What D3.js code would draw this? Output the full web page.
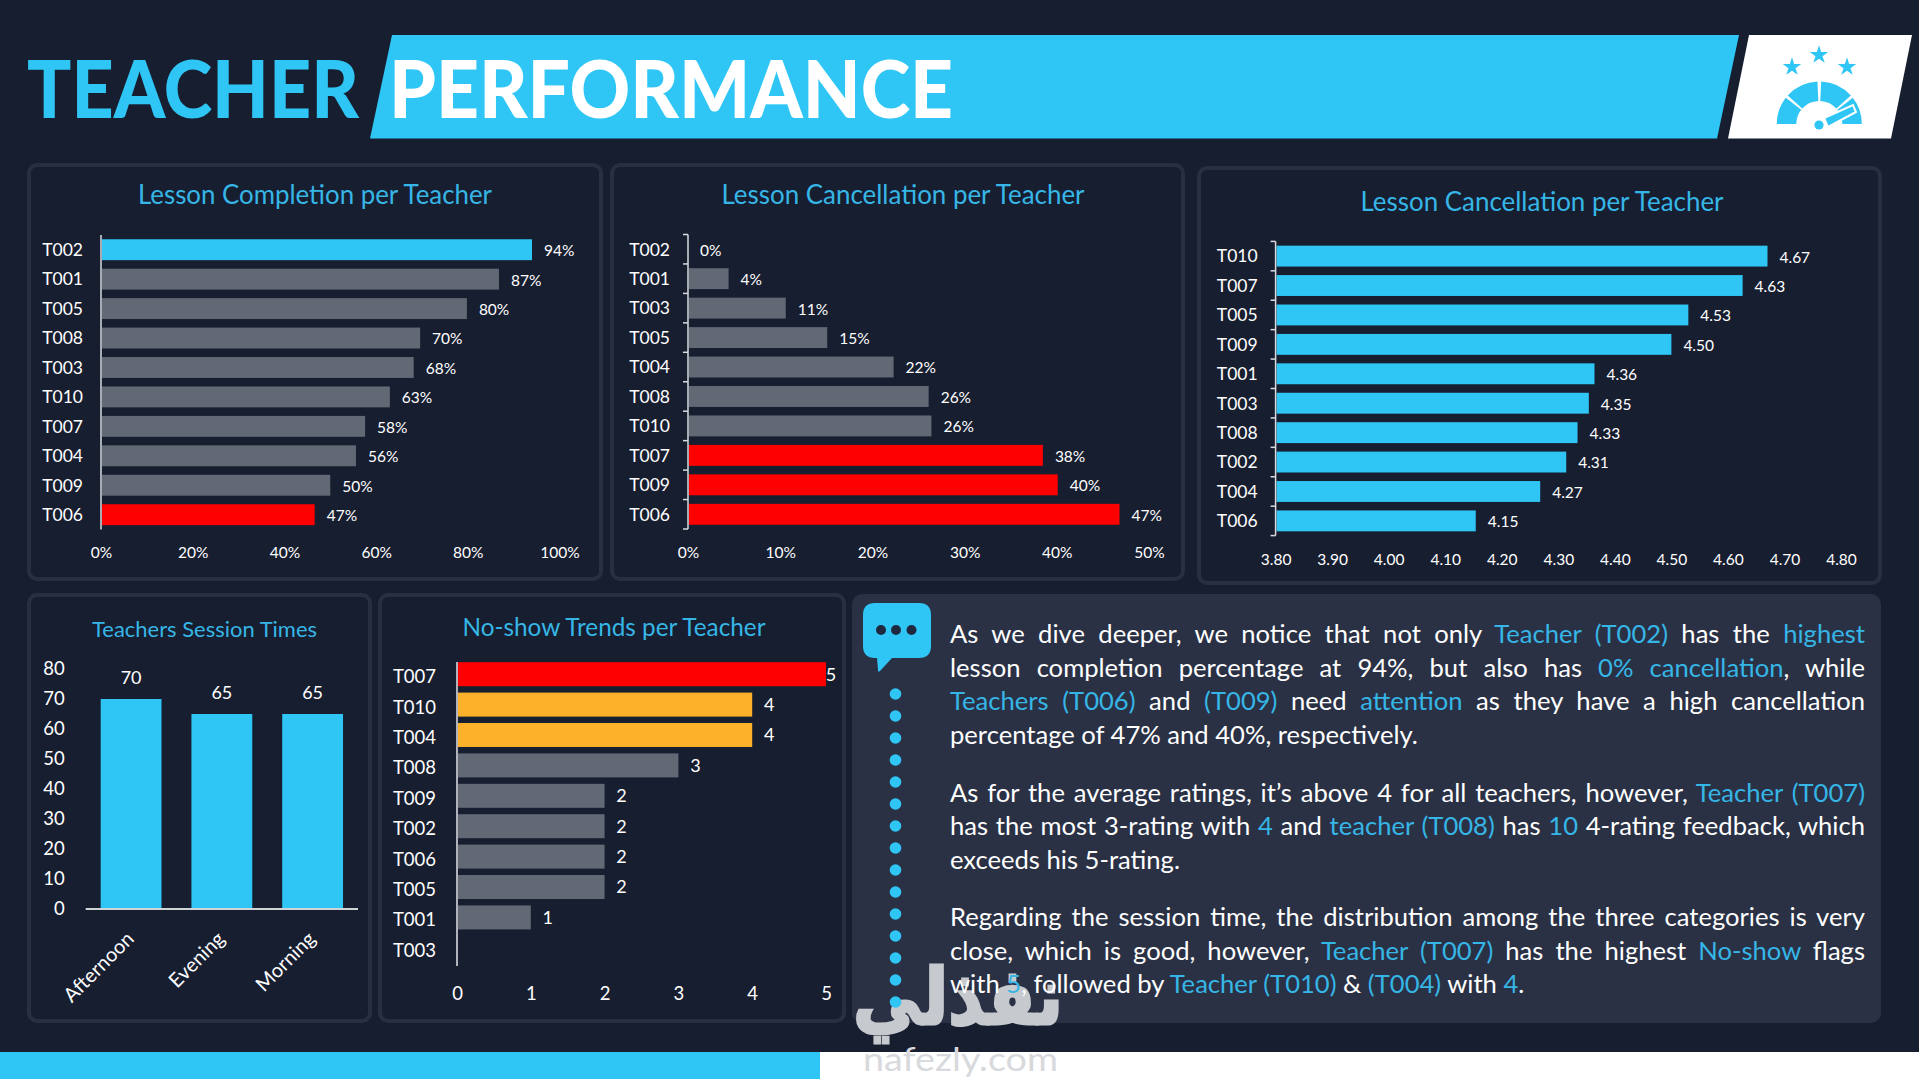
<!DOCTYPE html>
<html>
<head>
<meta charset="utf-8">
<title>Teacher Performance</title>
<script src="https://cdn.jsdelivr.net/npm/d3@7"></script>
<style>
    html, body { margin: 0; padding: 0; background: #171e30; overflow: hidden; }
    svg { display: block; }
    text { font-family: Lato, "Open Sans", sans-serif; fill: #fff; }
    .axis text { fill: #fff; }
    .chartTitle { fill: #36b6e6; }
    .hi { fill: #36b6e6; }
</style>
</head>
<body>
<script>
// Chart values
var completionTeachers = ["T002","T001","T005","T008","T003","T010","T007","T004","T009","T006"];
var completionValues = [94, 86.8, 79.8, 69.6, 68.2, 63, 57.6, 55.6, 50, 46.6];
var completionTicks = [0, 20, 40, 60, 80, 100];

var cancelTeachers = ["T002","T001","T003","T005","T004","T008","T010","T007","T009","T006"];
var cancelValues = [0, 4.4, 10.6, 15.1, 22.3, 26.1, 26.4, 38.49, 40.1, 46.8];
var cancelTicks = [0, 10, 20, 30, 40, 50];

var ratingTeachers = ["T010","T007","T005","T009","T001","T003","T008","T002","T004","T006"];
var ratingValues = [4.67, 4.626, 4.53, 4.50, 4.364, 4.354, 4.334, 4.314, 4.268, 4.154];
var ratingTicks = [3.8, 3.9, 4.0, 4.1, 4.2, 4.3, 4.4, 4.5, 4.6, 4.7, 4.8];

var sessionNames = ["Afternoon","Evening","Morning"];
var sessionValues = [70, 65, 65];
var sessionTicks = [0, 10, 20, 30, 40, 50, 60, 70, 80];

var noShowTeachers = ["T007","T010","T004","T008","T009","T002","T006","T005","T001","T003"];
var noShowValues = [5, 4, 4, 3, 2, 2, 2, 2, 1, null];
var noShowTicks = [0, 1, 2, 3, 4, 5];

// Commentary, one entry per line. Text between * is highlighted.
var notesLines = [
    "As we dive deeper, we notice that not only *Teacher (T002)* has the *highest*",
    "lesson completion percentage at 94%, but also has *0% cancellation*, while",
    "*Teachers (T006)* and *(T009)* need *attention* as they have a high cancellation",
    "percentage of 47% and 40%, respectively.",
    "As for the average ratings, it\u2019s above 4 for all teachers, however, *Teacher (T007)*",
    "has the most 3-rating with *4* and *teacher (T008)* has *10* 4-rating feedback, which",
    "exceeds his 5-rating.",
    "Regarding the session time, the distribution among the three categories is very",
    "close, which is good, however, *Teacher (T007)* has the highest *No-show* flags",
    "with *5*, followed by *Teacher (T010)* & *(T004)* with *4*."
];
var notesBaselines = [643, 677, 710, 744, 802, 835, 869, 926, 960, 993];
var notesJustified = [true, true, true, false, true, true, false, true, true, false];

var cyan = "#2fc6f6", grey = "#636875", red = "#ff0000", orange = "#fdb12b";

var width = 1919, height = 1079;
var svg = d3.select("body").append("svg")
    .attr("width", width)
    .attr("height", height);

svg.append("rect").attr("width", width).attr("height", height).attr("fill", "#171e30");

// Banner
svg.append("polygon").attr("points", "392,35 1739,35 1717,138.5 370,138.5").attr("fill", cyan);
svg.append("polygon").attr("points", "1749,35 1912,35 1891,138.5 1728,138.5").attr("fill", "#fff");
fitText(svg, "TEACHER", 27, 118, 332, 80, cyan, 900);
fitText(svg, "PERFORMANCE", 389, 118, 564, 80, "#fff", 900);
drawGauge();

// Bottom strip
svg.append("rect").attr("x", 0).attr("y", 1052).attr("width", 820).attr("height", 27).attr("fill", cyan);
svg.append("rect").attr("x", 820).attr("y", 1052).attr("width", 1099).attr("height", 27).attr("fill", "#fff");

// Panels
panel(29, 165, 572, 414);
panel(612, 165, 571, 414);
panel(1199, 168, 681, 415);
panel(29, 595, 341, 426);
panel(380, 595, 464, 426);
svg.append("rect").attr("x", 852).attr("y", 594).attr("width", 1029).attr("height", 429)
    .attr("rx", 10).attr("fill", "#2a3145");

// Lesson completion
hBars({
    names: completionTeachers, values: completionValues, ticks: completionTicks,
    x0: 101, x1: 559.5, domain: [0, 100], y0: 235, y1: 529.4, axisY: 552.5,
    tickFormat: function(d){ return d + "%"; },
    label: function(d){ return Math.round(d) + "%"; },
    color: function(d, i){ return i == 0 ? cyan : (i == 9 ? red : grey); },
    brackets: false
});
title("Lesson Completion per Teacher", 315, 204, 354, 26);

// Lesson cancellation
hBars({
    names: cancelTeachers, values: cancelValues, ticks: cancelTicks,
    x0: 688, x1: 1149, domain: [0, 50], y0: 234.5, y1: 529, axisY: 552.5,
    tickFormat: function(d){ return d + "%"; },
    label: function(d){ return Math.round(d) + "%"; },
    color: function(d, i){ return i >= 7 ? red : grey; },
    brackets: true
});
title("Lesson Cancellation per Teacher", 903, 204, 363, 26);

// Average rating (the original slide titles this one cancellation as well)
hBars({
    names: ratingTeachers, values: ratingValues, ticks: ratingTicks,
    x0: 1275.6, x1: 1841, domain: [3.8, 4.8], y0: 241.4, y1: 535.6, axisY: 559.5,
    tickFormat: d3.format(".2f"),
    label: d3.format(".2f"),
    color: function(){ return cyan; },
    brackets: true
});
title("Lesson Cancellation per Teacher", 1542, 211, 363, 26);

sessionChart();
noShowChart();
watermark();
notes();

function panel(x, y, w, h){
    svg.append("rect")
        .attr("x", x).attr("y", y).attr("width", w).attr("height", h)
        .attr("rx", 8)
        .attr("fill", "#171e30")
        .attr("stroke", "#272f42")
        .attr("stroke-width", 4);
}

function title(txt, cx, base, w, size){
    svg.append("text")
        .attr("class", "chartTitle")
        .attr("x", cx).attr("y", base)
        .attr("text-anchor", "middle")
        .attr("font-size", size)
        .attr("textLength", w)
        .attr("lengthAdjust", "spacingAndGlyphs")
        .text(txt);
}

function fitText(g, txt, x, base, w, size, fill, weight){
    g.append("text")
        .attr("x", x).attr("y", base)
        .attr("font-size", size)
        .attr("font-weight", weight)
        .attr("textLength", w)
        .attr("lengthAdjust", "spacingAndGlyphs")
        .style("fill", fill)
        .text(txt);
}

// Horizontal bar chart shared by the three top panels
function hBars(o){
    var x = d3.scaleLinear().domain(o.domain).range([o.x0, o.x1]);
    var y = d3.scaleBand().domain(o.names).range([o.y0, o.y1]).paddingInner(0.29).paddingOuter(0.145);

    var xAxis = d3.axisBottom(x).tickValues(o.ticks).tickSize(0).tickFormat(o.tickFormat);
    var xg = svg.append("g").attr("class", "axis")
        .attr("transform", "translate(0," + (o.axisY - 6) + ")")
        .call(xAxis);
    xg.select(".domain").remove();
    xg.selectAll("text").attr("font-size", 15.5).attr("dy", "0.71em").attr("y", 0);

    svg.append("g").selectAll("rect")
        .data(o.values)
        .enter().append("rect")
        .attr("x", x(o.domain[0]) + 1)
        .attr("y", function(d, i){ return y(o.names[i]); })
        .attr("width", function(d){ return Math.max(0, x(d) - x(o.domain[0]) - 1); })
        .attr("height", y.bandwidth())
        .attr("fill", o.color);

    var yAxis = d3.axisLeft(y).tickSize(0).tickPadding(18);
    var yg = svg.append("g").attr("class", "axis")
        .attr("transform", "translate(" + o.x0 + ",0.7)")
        .call(yAxis);
    yg.select(".domain").remove();
    yg.selectAll("text").attr("font-size", 17.5).attr("font-family", "Lato");

    // Axis line, with bracket ticks on the band edges where the chart has them
    svg.append("line")
        .attr("x1", o.x0).attr("x2", o.x0).attr("y1", o.y0).attr("y2", o.y1)
        .attr("stroke", "#d9dbe0").attr("stroke-width", 1.5);
    if(o.brackets){
        svg.append("g").selectAll("line")
            .data(d3.range(o.names.length + 1))
            .enter().append("line")
            .attr("x1", o.x0 - 5).attr("x2", o.x0)
            .attr("y1", function(i){ return o.y0 + i * y.step(); })
            .attr("y2", function(i){ return o.y0 + i * y.step(); })
            .attr("stroke", "#d9dbe0").attr("stroke-width", 1.5);
    }

    svg.append("g").selectAll("text")
        .data(o.values)
        .enter().append("text")
        .attr("x", function(d){ return x(d) + 12; })
        .attr("y", function(d, i){ return y(o.names[i]) + y.bandwidth() / 2 + 1; })
        .attr("dy", "0.35em")
        .attr("font-size", 15.5)
        .text(o.label);
}

function sessionChart(){
    title("Teachers Session Times", 204.5, 637, 225, 22);

    var x = d3.scaleBand().domain(sessionNames).range([85.7, 358]).paddingInner(0.33).paddingOuter(0.165);
    var y = d3.scaleLinear().domain([0, 80]).range([909, 669]);

    svg.append("g").selectAll("rect")
        .data(sessionValues)
        .enter().append("rect")
        .attr("x", function(d, i){ return x(sessionNames[i]); })
        .attr("y", function(d){ return y(d); })
        .attr("width", x.bandwidth())
        .attr("height", function(d){ return y(0) - y(d); })
        .attr("fill", cyan);

    svg.append("g").selectAll("text")
        .data(sessionValues)
        .enter().append("text")
        .attr("x", function(d, i){ return x(sessionNames[i]) + x.bandwidth() / 2; })
        .attr("y", function(d){ return y(d) - 21; })
        .attr("dy", "0.35em")
        .attr("text-anchor", "middle")
        .attr("font-size", 18)
        .text(function(d){ return d; });

    var yg = svg.append("g").attr("class", "axis")
        .attr("transform", "translate(85.7,0)")
        .call(d3.axisLeft(y).tickValues(sessionTicks).tickSize(0).tickPadding(21));
    yg.select(".domain").remove();
    yg.selectAll("text").attr("font-size", 18.5);

    svg.append("line")
        .attr("x1", 85.7).attr("x2", 358).attr("y1", y(0)).attr("y2", y(0))
        .attr("stroke", "#d0d3d6").attr("stroke-width", 2);

    svg.append("g").selectAll("text")
        .data(sessionNames)
        .enter().append("text")
        .attr("transform", function(d){
            return "translate(" + (x(d) + x.bandwidth() / 2 - 3) + ",933) rotate(-45)";
        })
        .attr("text-anchor", "end")
        .attr("font-size", 20)
        .attr("dy", "0.5em")
        .text(function(d){ return d; });
}

function noShowChart(){
    title("No-show Trends per Teacher", 614, 636, 303, 24.5);

    var x = d3.scaleLinear().domain([0, 5]).range([457, 826]);
    var y = d3.scaleBand().domain(noShowTeachers).range([659, 963]).paddingInner(0.21).paddingOuter(0.105);

    var colour = function(d){ return d == 5 ? red : (d == 4 ? orange : grey); };

    svg.append("g").selectAll("rect")
        .data(noShowValues)
        .enter().append("rect")
        .attr("x", x(0) + 1)
        .attr("y", function(d, i){ return y(noShowTeachers[i]); })
        .attr("width", function(d){ return d ? x(d) - x(0) - 1 : 0; })
        .attr("height", y.bandwidth())
        .attr("fill", colour);

    var yg = svg.append("g").attr("class", "axis")
        .attr("transform", "translate(457,3)")
        .call(d3.axisLeft(y).tickSize(0).tickPadding(21));
    yg.select(".domain").remove();
    yg.selectAll("text").attr("font-size", 18.5);

    svg.append("line")
        .attr("x1", 457).attr("x2", 457).attr("y1", 662).attr("y2", 966)
        .attr("stroke", "#e4e6ea").attr("stroke-width", 1.5);

    var xg = svg.append("g").attr("class", "axis")
        .attr("transform", "translate(0,987)")
        .call(d3.axisBottom(x).tickValues(noShowTicks).tickSize(0).tickFormat(d3.format("d")));
    xg.select(".domain").remove();
    xg.selectAll("text").attr("font-size", 18.5).attr("y", 0).attr("dy", "0.71em");

    svg.append("g").selectAll("text")
        .data(noShowValues.filter(function(d){ return d != null; }))
        .enter().append("text")
        .attr("x", function(d){ return x(d) + (d == 5 ? 5 : 17); })
        .attr("y", function(d, i){ return y(noShowTeachers[i]) + y.bandwidth() / 2; })
        .attr("dy", "0.35em")
        .attr("text-anchor", "middle")
        .attr("font-size", 18)
        .text(function(d){ return d; });
}

function notes(){
    var left = 950, right = 1865;

    // Speech bubble
    svg.append("path")
        .attr("d", "M875,603 H919 Q931,603 931,615 V646 Q931,658 919,658 H892 L880,671 Q878,673 878,670 L877,658 H875 Q863,658 863,646 V615 Q863,603 875,603 Z")
        .attr("fill", cyan);
    svg.append("g").selectAll("circle")
        .data([881, 896, 911.5])
        .enter().append("circle")
        .attr("cx", function(d){ return d; })
        .attr("cy", 630)
        .attr("r", 5)
        .attr("fill", "#1e2940");

    // Dotted connector
    svg.append("g").selectAll("circle")
        .data(d3.range(15))
        .enter().append("circle")
        .attr("cx", 895.5)
        .attr("cy", function(i){ return 694 + i * 22; })
        .attr("r", 5.8)
        .attr("fill", cyan);

    notesLines.forEach(function(line, i){
        var t = svg.append("text")
            .attr("x", left)
            .attr("y", notesBaselines[i])
            .attr("font-size", 25.6)
            .attr("xml:space", "preserve");
        line.split("*").forEach(function(part, k){
            if(part.length) t.append("tspan").attr("class", k % 2 ? "hi" : null).text(part);
        });
        var len = t.node().getComputedTextLength();
        var gaps = line.split(" ").length - 1;
        if(notesJustified[i]){
            t.attr("word-spacing", (right - left - len) / gaps);
        }
    });
}

function drawGauge(){
    var g = svg.append("g");
    var star = d3.symbol().type(d3.symbolStar).size(105);
    g.selectAll("path.star")
        .data([[1792, 67], [1819, 55], [1847, 67]])
        .enter().append("path")
        .attr("class", "star")
        .attr("transform", function(d){ return "translate(" + d[0] + "," + d[1] + ")"; })
        .attr("d", star())
        .attr("fill", cyan);

    var arc = d3.arc().innerRadius(23).outerRadius(42.5);
    var cx = 1819.3, cy = 124;
    [[-90, -52], [-48, -2.5], [2.5, 48], [52, 90]].forEach(function(a){
        g.append("path")
            .attr("transform", "translate(" + cx + "," + cy + ")")
            .attr("d", arc.startAngle(a[0] * Math.PI / 180).endAngle(a[1] * Math.PI / 180)())
            .attr("fill", cyan);
    });
    // Needle, with a white edge where it crosses the arc
    g.append("polygon").attr("points", "1824,118 1828,127 1856,112 1853,105")
        .attr("fill", cyan).attr("stroke", "#fff").attr("stroke-width", 2);
    g.append("circle").attr("cx", 1819).attr("cy", 125).attr("r", 4.6).attr("fill", cyan);
}

function watermark(){
    svg.append("text")
        .attr("x", 853).attr("y", 1024)
        .attr("font-size", 78)
        .attr("font-weight", 700)
        .attr("textLength", 210)
        .attr("lengthAdjust", "spacingAndGlyphs")
        .attr("stroke", "#c6c9ce")
        .attr("stroke-width", 3)
        .style("font-family", "'DejaVu Sans'")
        .style("fill", "#c6c9ce")
        .text("\u0646\u0641\u0630\u0644\u064a");
    svg.append("text")
        .attr("x", 863).attr("y", 1071)
        .attr("font-size", 33)
        .attr("textLength", 195)
        .attr("lengthAdjust", "spacingAndGlyphs")
        .style("fill", "#d8d9dc")
        .text("nafezly.com");
}
</script>
</body>
</html>
